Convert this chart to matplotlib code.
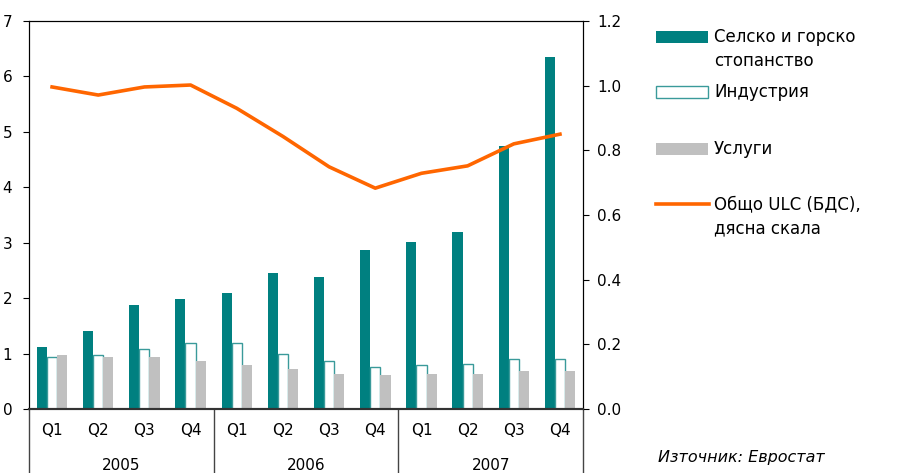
import matplotlib.pyplot as plt
import matplotlib.patches as mpatches
from matplotlib.lines import Line2D
import numpy as np

# Данни
quarters = ['Q1', 'Q2', 'Q3', 'Q4'] * 3
years = ['2005', '2006', '2007']

agri = [1.12, 1.41, 1.88, 1.99, 2.09, 2.45, 2.38, 2.87, 3.01, 3.19, 4.75, 6.35]
industry = [0.93, 0.97, 1.08, 1.19, 1.19, 1.00, 0.86, 0.75, 0.79, 0.82, 0.90, 0.90]
services = [0.97, 0.93, 0.93, 0.86, 0.79, 0.72, 0.64, 0.61, 0.64, 0.64, 0.68, 0.68]
ulc_total = [0.996, 0.971, 0.996, 1.002, 0.930, 0.843, 0.749, 0.683, 0.729, 0.752, 0.820, 0.850]

teal = '#008080'
grey = '#C0C0C0'
orange = '#FF6600'

plt.rcParams['font.family'] = ['DejaVu Sans']

fig = plt.figure(figsize=(8.97, 4.73), dpi=100)
ax = fig.add_axes([0.0323, 0.1353, 0.6177, 0.8203])

x = np.arange(len(agri))
w = 0.22

ax.bar(x - w, agri, w, color=teal, linewidth=0)
ax.bar(x, industry, w, color='white', edgecolor='#3A9A9A', linewidth=1.0)
ax.bar(x + w, services, w, color=grey, linewidth=0)

ax.set_xlim(-0.5, len(agri) - 0.5)
ax.set_ylim(0, 7)
ax.set_yticks(range(0, 8))
ax.tick_params(axis='y', labelsize=11, length=4, pad=8)
ax.set_xticks([])

ax2 = ax.twinx()
ax2.plot(x, ulc_total, color=orange, linewidth=2.6, solid_joinstyle='round')
ax2.set_ylim(0, 1.2)
ax2.set_yticks(np.arange(0, 1.21, 0.2))
ax2.set_yticklabels([f'{v:.1f}' for v in np.arange(0, 1.21, 0.2)])
ax2.tick_params(axis='y', labelsize=11, length=4, pad=6)

for a in (ax, ax2):
    a.spines['bottom'].set_linewidth(1.5)
    a.spines['bottom'].set_color('#333333')

# Подписи на оста X
for i, q in enumerate(quarters):
    ax.text(i, -0.055, q, transform=ax.get_xaxis_transform(), ha='center', va='center', fontsize=11)
for j, yr in enumerate(years):
    ax.text(j * 4 + 1.5, -0.145, yr, transform=ax.get_xaxis_transform(), ha='center', va='center', fontsize=11)
for xs in [-0.5, 3.5, 7.5, 11.5]:
    ax.plot([xs, xs], [0, -0.17], transform=ax.get_xaxis_transform(), color='#444444',
            linewidth=1.0, clip_on=False)

# Легенда
fw, fh = 897.0, 473.0
entries = [
    ('bar', teal, 'none', 37, ['Селско и горско', 'стопанство']),
    ('bar', 'white', '#3A9A9A', 92, ['Индустрия']),
    ('bar', grey, 'none', 149, ['Услуги']),
    ('line', orange, None, 204, ['Общо ULC (БДС),', 'дясна скала']),
]
for kind, fc, ec, yc, lines in entries:
    if kind == 'bar':
        fig.add_artist(mpatches.Rectangle((656 / fw, 1 - (yc + 6) / fh), 52 / fw, 12 / fh,
                                          facecolor=fc, edgecolor=ec, linewidth=1.0,
                                          transform=fig.transFigure))
    else:
        fig.add_artist(Line2D([656 / fw, 709 / fw], [1 - yc / fh, 1 - yc / fh], color=fc,
                              linewidth=2.6, transform=fig.transFigure))
    for k, line in enumerate(lines):
        fig.text(714 / fw, 1 - (yc + k * 24) / fh, line, ha='left', va='center', fontsize=12)

fig.text(658 / fw, 1 - 457 / fh, 'Източник: Евростат', ha='left', va='center',
         fontsize=11.5, style='italic')

fig.savefig('out.png', dpi=100)
